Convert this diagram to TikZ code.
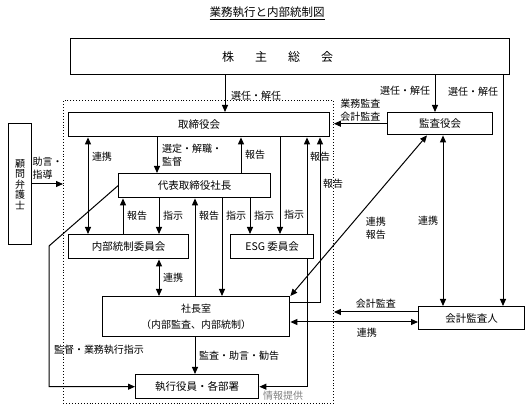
\documentclass[tikz,border=0pt]{standalone}
\usepackage{fontspec}
\setmainfont{Noto Sans CJK JP}
\usetikzlibrary{arrows.meta}

\newcommand{\boxline}{1.4pt}
\newcommand{\connline}{1pt}

\tikzset{
  box/.style={draw, line width=\boxline, inner sep=0pt, anchor=north west, align=center, font=\fontsize{10.5}{14}\selectfont},
  lbl/.style={font=\fontsize{10}{13}\selectfont, inner sep=1.5pt},
  conn/.style={line width=\connline, -{Triangle[length=7pt,width=6pt]}},
  dconn/.style={line width=\connline, {Triangle[length=7pt,width=6pt]}-{Triangle[length=7pt,width=6pt]}},
}

\begin{document}
\begin{tikzpicture}[x=1pt, y=-1pt]
\useasboundingbox (0,0) rectangle (531,419);
% Define the title
\node[font=\fontsize{11.5}{14}\selectfont] (title) at (267,13) {\underline{業務執行と内部統制図}};
% Define the boxes
\node[box, minimum width=439pt, minimum height=36pt, font=\fontsize{12}{14}\selectfont] (kabunushi) at (70,38) {株\hspace{21pt}主\hspace{21pt}総\hspace{21pt}会\hspace{25pt}};
\node[box, minimum width=261pt, minimum height=24pt] (torishimari) at (68,112) {取締役会};
\node[box, minimum width=105pt, minimum height=22pt] (kansayaku) at (387,112) {監査役会};
\node[box, minimum width=23pt, minimum height=121pt, font=\fontsize{10}{10.5}\selectfont] (komon) at (8,123) {顧\\問\\弁\\護\\士};
\node[box, minimum width=152pt, minimum height=24pt] (daihyo) at (118,173) {代表取締役社長};
\node[box, minimum width=120pt, minimum height=24pt] (naibu) at (68,234) {内部統制委員会};
\node[box, minimum width=83pt, minimum height=24pt] (esg) at (230,234) {ESG 委員会};
\node[box, minimum width=187pt, minimum height=40pt, font=\fontsize{10}{16}\selectfont] (shachoshitsu) at (102,296) {社長室\\（内部監査、内部統制）};
\node[box, minimum width=106pt, minimum height=23pt] (kaikei) at (418,306) {会計監査人};
\node[box, minimum width=123pt, minimum height=24pt] (shikko) at (135,374) {執行役員・各部署};
% Define the dotted frame
\node[draw, dotted, line width=0.9pt, minimum width=270pt, minimum height=303pt, anchor=north west, inner sep=0pt] (frame) at (63,100) {};
% Draw the appointment arrows
\draw[conn] (kabunushi.south -| 225,0) -- node[lbl, pos=0.56, right=4pt] {選任・解任} (torishimari.north -| 225,0);
\draw[conn] (kabunushi.south -| 435,0) -- node[lbl, pos=0.42, left=3pt] {選任・解任} (kansayaku.north -| 435,0);
\draw[conn] (kabunushi.south -| 503,0) -- node[lbl, pos=0.07, left=3pt] {選任・解任} (kaikei.north -| 503,0);
% Draw the audit arrows to the frame
\draw[conn] (kansayaku.west) -- node[lbl, midway, above, align=center] {業務監査\\会計監査} (frame.east |- kansayaku.west);
\draw[conn] (kaikei.west |- 0,312) -- node[lbl, midway, above=2pt] {会計監査} (frame.east |- 0,312);
\draw[dconn] (shachoshitsu.east |- 0,322) -- node[lbl, pos=0.6, below=4pt] {連携} (kaikei.west |- 0,322);
% Draw the adviser arrow
\draw[conn] (komon.east |- 0,184) -- node[lbl, midway, above=3pt, align=left] {助言・\\指導} (frame.west |- 0,184);
% Draw the board and president arrows
\draw[conn] (torishimari.south -| 157,0) -- node[lbl, midway, right=3pt, align=left] {選定・解職・\\監督} (daihyo.north -| 157,0);
\draw[conn] (daihyo.north -| 241,0) -- node[lbl, midway, right=2pt] {報告} (torishimari.south -| 241,0);
\draw[dconn] (torishimari.south -| 88,0) -- node[lbl, pos=0.2, right=2pt] {連携} (naibu.north -| 88,0);
% Draw the president and committee arrows
\draw[conn] (naibu.north -| 123,0) -- node[lbl, midway, right=2pt] {報告} (daihyo.south -| 123,0);
\draw[conn] (daihyo.south -| 159,0) -- node[lbl, midway, right=2pt] {指示} (naibu.north -| 159,0);
\draw[conn] (shachoshitsu.north -| 195,0) -- node[lbl, pos=0.82, right=2pt] {報告} (daihyo.south -| 195,0);
\draw[conn] (daihyo.south -| 222,0) -- node[lbl, pos=0.18, right=2pt] {指示} (shachoshitsu.north -| 222,0);
\draw[conn] (daihyo.south -| 250,0) -- node[lbl, midway, right=2pt] {指示} (esg.north -| 250,0);
\draw[conn] (torishimari.south -| 280,0) -- node[lbl, pos=0.8, right=2pt] {指示} (esg.north -| 280,0);
\draw[conn] (esg.north -| 307,0) -- node[lbl, pos=0.8, right=1pt] {報告} (torishimari.south -| 307,0);
\draw[conn] ([yshift=-7pt]shachoshitsu.north east) -- (320,303) -- node[lbl, pos=0.72, right=1pt] {報告} (torishimari.south -| 320,0);
\draw[conn] (esg.south -| 307,0) -- (shikko.east -| 307,0) -- node[lbl, midway, below=2pt, text=gray] {情報提供} (shikko.east);
% Draw the president's office arrows
\draw[dconn] (naibu.south -| 159,0) -- node[lbl, midway, right=2pt] {連携} (shachoshitsu.north -| 159,0);
\draw[conn] (shachoshitsu.south -| 195,0) -- node[lbl, midway, right=2pt] {監査・助言・勧告} (shikko.north -| 195,0);
\draw[dconn] (kansayaku.south -| 427,0) -- node[lbl, pos=0.58, right=16pt, align=center] {連携\\報告} (shachoshitsu.north east);
\draw[dconn] (kansayaku.south -| 443,0) -- node[lbl, midway, left=3pt] {連携} (kaikei.north -| 443,0);
\draw[conn] (daihyo.west) -- (49,246) -- node[lbl, pos=0.74, right=3pt] {監督・業務執行指示} (shikko.west -| 49,0) -- (shikko.west);
\end{tikzpicture}
\end{document}
